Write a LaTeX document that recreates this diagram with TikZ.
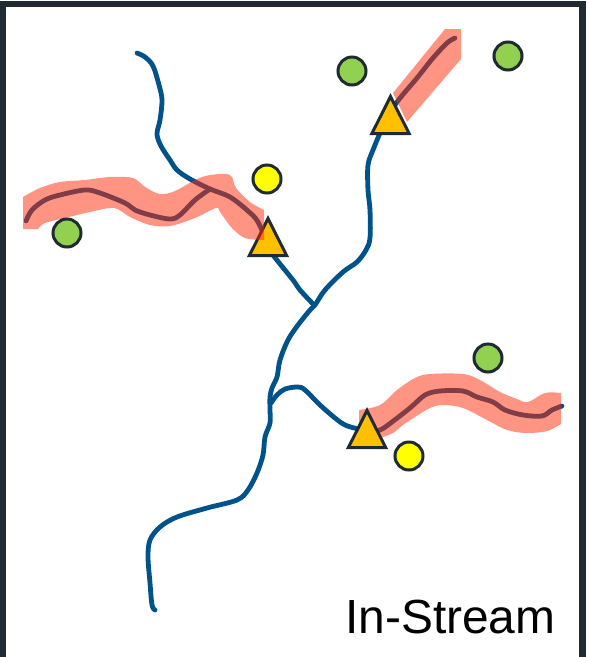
\documentclass[tikz,border=0pt]{standalone}
\usepackage{fontspec}
\setmainfont{Liberation Sans}
\definecolor{framec}{HTML}{1F2A33}
\definecolor{streamc}{HTML}{00528A}
\definecolor{pinkc}{HTML}{FF2A08}
\definecolor{orangec}{HTML}{FFC000}
\definecolor{greenc}{HTML}{92D050}
\definecolor{yellowc}{HTML}{FFFF00}
\tikzset{
  streamline/.style={draw=streamc,line width=4.8pt,line cap=round,line join=round},
  reach/.style={fill=pinkc,fill opacity=.5,draw=none},
  site/.style={circle,draw=framec,line width=3pt,minimum size=28pt,inner sep=0pt},
  greensite/.style={site,fill=greenc},
  yellowsite/.style={site,fill=yellowc},
  gauge/.pic={\draw[framec,line width=3pt,fill=orangec,line join=miter] (-18.6,-1.5)--(18.6,-1.5)--(0,-38.5)--cycle;},
  smoothy/.style={smooth,tension=.55}
}
\begin{document}
\begin{tikzpicture}[x=1pt,y=-1pt]
\useasboundingbox (0,0) rectangle (589,657);
\fill[white] (0,0) rectangle (589,657);
% streams
\draw[streamline] plot[smoothy] coordinates {(137,53) (145,57) (153,66) (159,85) (162,100) (160,120) (157,134) (161,146) (170,160) (177,170) (190,179) (210,189) (230,197) (248,211) (258,222) (268,245) (273,255) (293,280) (300,290) (314,305)};
\draw[streamline] plot[smoothy] coordinates {(26,221) (32,210) (45,200) (60,195) (85,190) (100,193) (125,203) (135,210) (150,215) (170,219) (180,215) (195,200) (210,189)};
\draw[streamline] plot[smoothy] coordinates {(455,38) (447,43) (433,58) (417,78) (397,102) (385,122) (380,133) (373,150) (368,165) (368,190) (370,210) (370,238) (366,250) (357,262) (343,272) (325,290) (315,305) (310,310) (298,325) (288,340) (280,360) (277,377) (272,388) (270,397) (270,410) (270,423) (265,437) (263,455) (257,473) (248,490) (237,500) (207,508) (177,517) (160,527) (150,540) (148,557) (150,583) (152,605) (155,610)};
\draw[streamline] plot[smoothy] coordinates {(271,403) (277,395) (285,389) (298,387) (305,390) (320,405) (335,418) (345,425) (358,429) (370,432) (380,430) (388,425) (410,408) (425,395) (440,391) (463,391) (477,397) (493,402) (505,410) (523,415) (542,416) (552,410) (562,406)};
% gauge under the first reach
\pic at (268,257) {gauge};
% reaches
\fill[reach] plot[smoothy] coordinates {(23,197) (40,188) (60,182) (85,180) (110,177) (133,178) (145,187) (160,194) (175,191) (195,180) (210,175) (230,175) (236,188) (250,202) (264,210)} -- (264,240) -- plot[smoothy] coordinates {(264,240) (245,238) (232,228) (220,212) (216,208) (195,218) (170,226) (150,225) (130,217) (114,208) (90,212) (65,218) (45,223) (38,229)} -- (23,229) -- cycle;
\fill[reach] (445,29) -- (461,29) -- (461,59) -- (407,122) -- (393,93) -- cycle;
\fill[reach] plot[smoothy] coordinates {(359,410) (380,405) (397,390) (415,378) (430,374) (463,374) (480,380) (500,392) (517,399) (528,402) (545,393) (561,393)} -- (561,424) -- plot[smoothy] coordinates {(561,424) (547,431) (527,433) (507,430) (487,420) (463,408) (443,405) (430,408) (415,417) (403,425) (393,433) (380,438)} -- (359,438) -- cycle;
% gauges over the other reaches
\pic at (390.5,135) {gauge};
\pic at (367,449) {gauge};
% sites
\node[greensite] (g1) at (67,233) {};
\node[greensite] (g2) at (352,71) {};
\node[greensite] (g3) at (508,56) {};
\node[greensite] (g4) at (488,358) {};
\node[yellowsite] (y1) at (267,179) {};
\node[yellowsite] (y2) at (409,456) {};
% frame
\draw[framec,line width=6.3pt,line join=miter] (3,657) -- (3,4) -- (582.5,4) -- (582.5,657);
% label
\node[anchor=base west,inner sep=0pt,font=\fontsize{47.9}{47.9}\selectfont,text=black] (lbl) at (345,633) {In-Stream};
\end{tikzpicture}
\end{document}
